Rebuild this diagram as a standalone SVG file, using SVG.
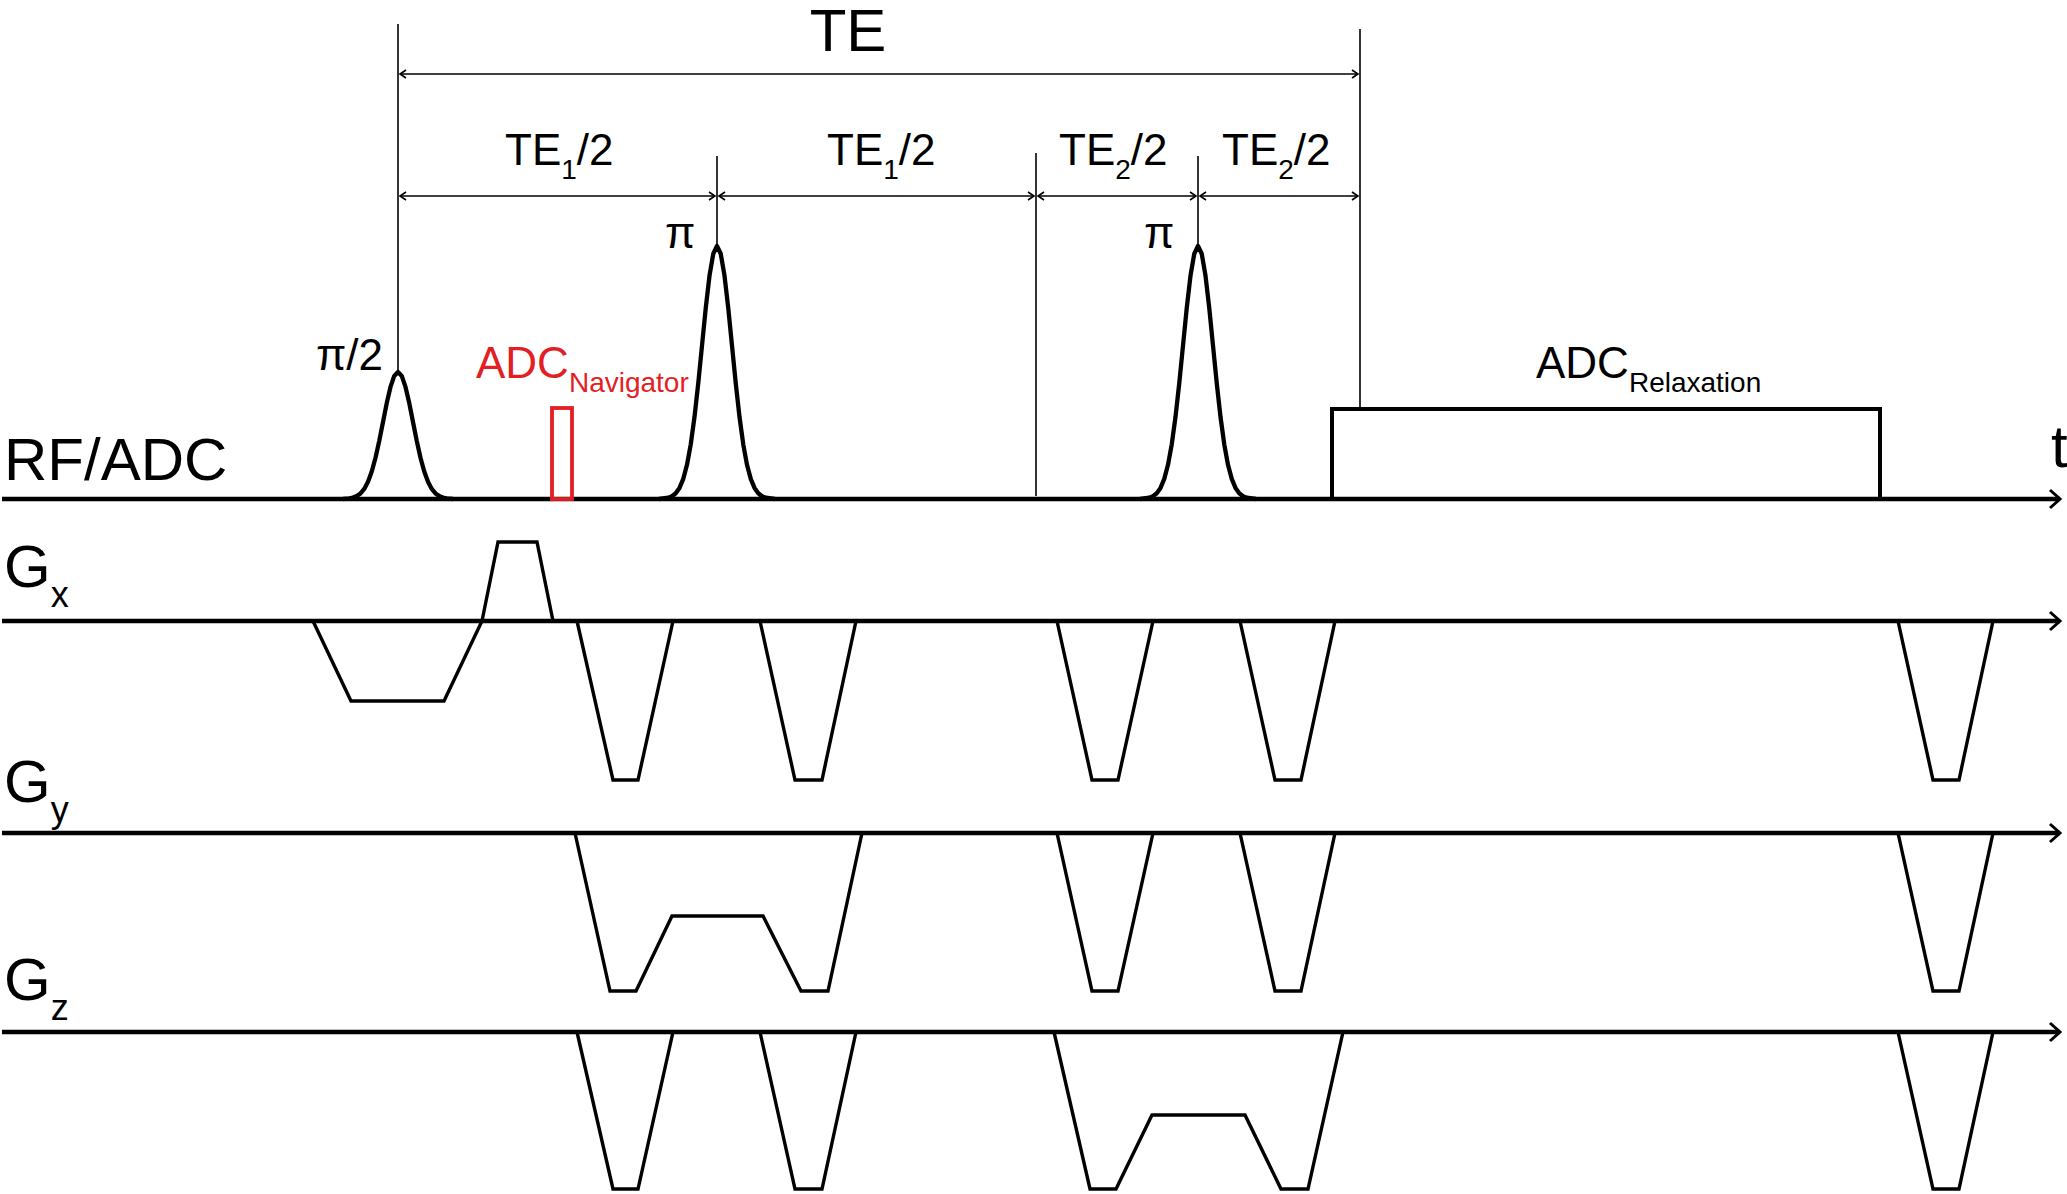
<svg xmlns="http://www.w3.org/2000/svg" xmlns:xlink="http://www.w3.org/1999/xlink" width="2067" height="1194" viewBox="0 0 2067 1194">
<style>
text{font-family:"Liberation Sans",Arial,sans-serif;fill:#000}
.lbl{font-size:44px}
.big{font-size:60px}
.sub{font-size:28px}
.red{fill:#e31e24}
.axis{stroke:#000;stroke-width:4.5;fill:none;marker-end:url(#axh)}
.wave{stroke:#000;stroke-width:3.4;fill:none;stroke-linejoin:miter}
.pulse{stroke:#000;stroke-width:4.3;fill:none;stroke-linejoin:round}
.tick{stroke:#000;stroke-width:1.6;fill:none}
.dim{stroke:#000;stroke-width:1.6;fill:none;marker-start:url(#dh);marker-end:url(#dh)}
</style>
<defs>
<marker id="axh" markerUnits="userSpaceOnUse" markerWidth="24" markerHeight="24" refX="14" refY="12" orient="auto">
<path d="M4,3 L14,12 L4,21" fill="none" stroke="#000" stroke-width="3"/>
</marker>
<marker id="dh" markerUnits="userSpaceOnUse" markerWidth="14" markerHeight="14" refX="9" refY="7" orient="auto-start-reverse">
<path d="M3,3 L9,7 L3,11" fill="none" stroke="#000" stroke-width="1.6"/>
</marker>
<path id="pi" d="M-58,0 L-48.75,-1.3 L-45,-2.8 L-41.25,-5.8 L-37.5,-11.1 L-33.75,-20.1 L-30,-34.2 L-26.25,-54.7 L-22.5,-82.1 L-18.75,-115.8 L-15,-153.4 L-11.25,-191 L-7.5,-223.3 L-3.75,-245.2 L0,-253 L3.75,-245.2 L7.5,-223.3 L11.25,-191 L15,-153.4 L18.75,-115.8 L22.5,-82.1 L26.25,-54.7 L30,-34.2 L33.75,-20.1 L37.5,-11.1 L41.25,-5.8 L45,-2.8 L48.75,-1.3 L58,0"/>
<path id="pi2" d="M-55,0 L-48.75,-0.7 L-45,-1.4 L-41.25,-2.9 L-37.5,-5.6 L-33.75,-10.1 L-30,-17.2 L-26.25,-27.5 L-22.5,-41.2 L-18.75,-58.1 L-15,-77 L-11.25,-95.9 L-7.5,-112.1 L-3.75,-123.1 L0,-127 L3.75,-123.1 L7.5,-112.1 L11.25,-95.9 L15,-77 L18.75,-58.1 L22.5,-41.2 L26.25,-27.5 L30,-17.2 L33.75,-10.1 L37.5,-5.6 L41.25,-2.9 L45,-1.4 L48.75,-0.7 L55,0"/>
</defs>

<g id="axes">
<line class="axis" x1="2" y1="499" x2="2060" y2="499"/>
<line class="axis" x1="2" y1="621" x2="2060" y2="621"/>
<line class="axis" x1="2" y1="833" x2="2060" y2="833"/>
<line class="axis" x1="2" y1="1032" x2="2060" y2="1032"/>
</g>

<g id="axis-labels">
<text class="big" x="4" y="480">RF/ADC</text>
<text class="big" x="2051" y="467">t</text>
<text x="4" y="587"><tspan class="big">G</tspan><tspan font-size="36" dy="20">x</tspan></text>
<text x="4" y="802"><tspan class="big">G</tspan><tspan font-size="36" dy="20">y</tspan></text>
<text x="4" y="1000"><tspan class="big">G</tspan><tspan font-size="36" dy="20">z</tspan></text>
</g>

<g id="timing">
<line class="tick" x1="398" y1="24" x2="398" y2="372"/>
<line class="tick" x1="717" y1="156" x2="717" y2="246"/>
<line class="tick" x1="1036" y1="153" x2="1036" y2="496"/>
<line class="tick" x1="1198" y1="156" x2="1198" y2="246"/>
<line class="tick" x1="1360" y1="29" x2="1360" y2="408"/>
</g>

<g id="dimensions">
<line class="dim" x1="400" y1="74" x2="1358" y2="74"/>
<line class="dim" x1="400" y1="196" x2="715" y2="196"/>
<line class="dim" x1="719" y1="196" x2="1034" y2="196"/>
<line class="dim" x1="1038" y1="196" x2="1196" y2="196"/>
<line class="dim" x1="1200" y1="196" x2="1358" y2="196"/>
<text class="big" x="848" y="51" text-anchor="middle">TE</text>
<text class="lbl" x="505" y="165">TE<tspan class="sub" dy="14">1</tspan><tspan dy="-14">/2</tspan></text>
<text class="lbl" x="827" y="165">TE<tspan class="sub" dy="14">1</tspan><tspan dy="-14">/2</tspan></text>
<text class="lbl" x="1059" y="165">TE<tspan class="sub" dy="14">2</tspan><tspan dy="-14">/2</tspan></text>
<text class="lbl" x="1222" y="165">TE<tspan class="sub" dy="14">2</tspan><tspan dy="-14">/2</tspan></text>
</g>

<g id="rf-pulse-90">
<use xlink:href="#pi2" href="#pi2" class="pulse" transform="translate(398,499)"/>
<text class="lbl" x="316" y="370">π/2</text>
</g>

<g id="rf-pulse-180-1">
<use xlink:href="#pi" href="#pi" class="pulse" transform="translate(717,499)"/>
<text class="lbl" x="665" y="248">π</text>
</g>

<g id="rf-pulse-180-2">
<use xlink:href="#pi" href="#pi" class="pulse" transform="translate(1198,499)"/>
<text class="lbl" x="1144" y="248">π</text>
</g>

<g id="adc-navigator">
<rect x="552" y="408" width="20" height="91" fill="none" stroke="#e31e24" stroke-width="3.8"/>
<text class="lbl red" x="476" y="378">ADC<tspan class="sub" dy="14">Navigator</tspan></text>
</g>

<g id="adc-relaxation">
<path d="M1332,499 L1332,409 L1880,409 L1880,499" fill="none" stroke="#000" stroke-width="4"/>
<text class="lbl" x="1536" y="378">ADC<tspan class="sub" dy="14">Relaxation</tspan></text>
</g>

<g id="gx">
<path class="wave" d="M313,621 L351,701 L444,701 L482,621 L498,542 L537,542 L553,621"/>
<path class="wave" d="M577,621 L613,780 L638,780 L673,621"/>
<path class="wave" d="M760,621 L795,780 L822,780 L856,621"/>
<path class="wave" d="M1057,621 L1092,780 L1118,780 L1153,621"/>
<path class="wave" d="M1240,621 L1275,780 L1301,780 L1335,621"/>
<path class="wave" d="M1898,621 L1933,780 L1959,780 L1993,621"/>
</g>

<g id="gy">
<path class="wave" d="M575,833 L610,991 L636,991 L672,916 L763,916 L801,991 L828,991 L862,833"/>
<path class="wave" d="M1057,833 L1092,991 L1118,991 L1153,833"/>
<path class="wave" d="M1240,833 L1275,991 L1301,991 L1335,833"/>
<path class="wave" d="M1898,833 L1933,991 L1959,991 L1993,833"/>
</g>

<g id="gz">
<path class="wave" d="M577,1032 L613,1189 L638,1189 L673,1032"/>
<path class="wave" d="M760,1032 L795,1189 L822,1189 L856,1032"/>
<path class="wave" d="M1054,1032 L1090,1189 L1116,1189 L1152,1115 L1245,1115 L1281,1189 L1308,1189 L1343,1032"/>
<path class="wave" d="M1898,1032 L1933,1189 L1959,1189 L1993,1032"/>
</g>
</svg>
